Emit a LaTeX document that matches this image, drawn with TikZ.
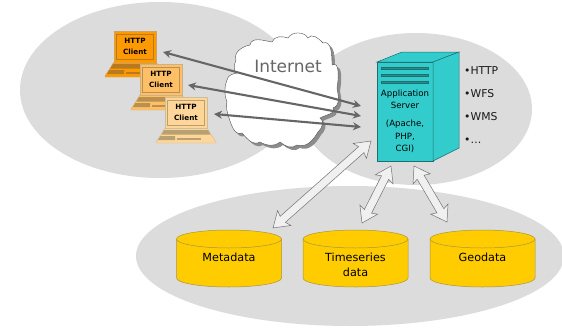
\documentclass[tikz,border=0pt]{standalone}
\usepackage{fontspec}
\setmainfont{DejaVu Sans}
\usetikzlibrary{calc,arrows.meta}
\definecolor{blob}{HTML}{DCDCDC}
\definecolor{srv}{HTML}{33CCCC}
\definecolor{srvline}{HTML}{1F6F70}
\definecolor{gold}{HTML}{FFCC00}
\definecolor{goldline}{HTML}{A89540}
\definecolor{arrowgray}{HTML}{666666}
\definecolor{lapA}{HTML}{FF9900}
\definecolor{lapAd}{HTML}{B87A20}
\definecolor{lapB}{HTML}{FFBF66}
\definecolor{lapBd}{HTML}{B89050}
\definecolor{lapC}{HTML}{FFD699}
\definecolor{lapCd}{HTML}{B8A070}
\tikzset{
  blobstyle/.style={fill=blob,draw=none},
  txt/.style={inner sep=0pt,align=center,text=black},
  httptxt/.style={txt,font=\bfseries\fontsize{7.2}{10.5}\selectfont},
  dbtxt/.style={txt,font=\fontsize{11.2}{15}\selectfont},
  srvtxt/.style={txt,font=\fontsize{8.6}{12.5}\selectfont},
  listtxt/.style={txt,anchor=west,font=\fontsize{10.8}{12}\selectfont,text=black!90},
  netarrow/.style={draw=arrowgray,line width=2.1pt,{Stealth[length=8pt,width=8pt]}-{Stealth[length=8pt,width=8pt]}},
  cloudbody/.style={fill=white,draw=black!70,line width=0.4pt},
}
\newcommand{\laptop}[5]{% x y fill dark name
  \begin{scope}[shift={(#1,#2)}]
    \fill[#3,draw=#4!70,line width=0.4pt] (0,31) -- (-9,45) -- (-9,46) -- (51,46) -- (51,45) -- (42,31) -- cycle;
    \fill[#4] (-1,33) -- (43,33) -- (45.5,37.5) -- (-3.5,37.5) -- cycle;
    \fill[#4] (-4.5,39) -- (10,39) -- (10,43) -- (-7,43) -- cycle;
    \fill[#4] (12,41) -- (36,41) -- (36,43) -- (12,43) -- cycle;
    \fill[#3,draw=#4!70,line width=0.6pt] (0,0) rectangle (42,31);
    \draw[#4,line width=0.5pt] (2.5,3) rectangle (39.5,28);
    \node[httptxt] (#5) at (21,15.5) {HTTP\\Client};
  \end{scope}}
\newcommand{\dblarrow}[2]{%
  \pgfpointdiff{\pgfpointanchor{#1}{center}}{\pgfpointanchor{#2}{center}}%
  \pgfgetlastxy{\dx}{\dy}%
  \pgfmathsetmacro\alen{veclen(\dx,\dy)}%
  \pgfmathsetmacro\aang{atan2(\dy,\dx)}%
  \begin{scope}[shift={(#1)},rotate=\aang]
    \path[fill=black!6,draw=black!55,line width=0.5pt]
    (0,0) -- (15,-10) -- (13,-4) -- (\alen-13,-4) -- (\alen-15,-10) -- (\alen,0)
    -- (\alen-15,10) -- (\alen-13,4) -- (13,4) -- (15,10) -- cycle;
  \end{scope}}
\newcommand{\cylinder}[4]{% name cx label
  \fill[gold,draw=goldline,line width=0.5pt] (#2-52.5,239) -- (#2-52.5,278) arc[start angle=180,end angle=0,x radius=52.5,y radius=9] -- (#2+52.5,239) arc[start angle=0,end angle=-180,x radius=52.5,y radius=9] -- cycle;
  \draw[goldline,line width=0.5pt] (#2-52.5,239) arc[start angle=180,end angle=0,x radius=52.5,y radius=9];
  \node[dbtxt,anchor=north] (#1) at (#2,#3) {#4};}
\begin{document}
\begin{tikzpicture}[x=1pt,y=-1pt]
\useasboundingbox (0,0) rectangle (562,327);
\fill[white] (0,0) rectangle (562,327);
\fill[blobstyle] (160,90) ellipse[x radius=140,y radius=88];
\fill[blobstyle] (350,256) ellipse[x radius=214,y radius=70];
\fill[blobstyle] (416,109) ellipse[x radius=116,y radius=76];
% cloud
\def\cloudpath{(236,60) to[out=110,in=190] (250,45) to[out=80,in=170] (272,42) to[out=70,in=160] (288,38)
  to[out=60,in=120] (308,38) to[out=60,in=130] (323,43) to[out=20,in=90] (332,65) to[out=30,in=80] (337,88)
  to[out=-80,in=20] (333,108) to[out=-60,in=30] (320,118) to[out=-30,in=40] (318,132) to[out=-120,in=-20] (297,145)
  to[out=-140,in=-40] (280,142) to[out=-140,in=-30] (260,142) to[out=-150,in=-50] (242,133) to[out=-160,in=-70] (228,115)
  to[out=100,in=-110] (227,102) to[out=110,in=-110] (227,80) to[out=80,in=190] (237,73) to[out=150,in=-110] cycle}
\fill[black!45,shift={(3,3)}] \cloudpath;
\draw[cloudbody] \cloudpath;
\node[txt,text=black!60,font=\fontsize{17}{19}\selectfont] (inet) at (288,66) {Internet};
% laptops
\laptop{114}{31}{lapA}{lapAd}{c1}
\laptop{140}{64}{lapB}{lapBd}{c2}
\laptop{165}{97}{lapC}{lapCd}{c3}
% server
\fill[srv,draw=srvline,line width=0.5pt] (377,62) rectangle (433,161);
\fill[srv,draw=srvline,line width=0.5pt] (377,62) -- (402,52) -- (459,52) -- (433,62) -- cycle;
\fill[srv,draw=srvline,line width=0.5pt] (433,62) -- (459,52) -- (459,148) -- (433,161) -- cycle;
\foreach \yy in {67,74,81}{\fill[srv!70!black,draw=srvline,line width=0.4pt] (381,\yy) rectangle (428,\yy+2.2);}
\node[srvtxt] (srvname) at (405,99.5) {Application\\Server};
\node[srvtxt] (srvstack) at (405,136.5) {(Apache,\\PHP,\\CGI)};
\node[listtxt] (l1) at (464,71) {•HTTP};
\node[listtxt] (l2) at (464,94) {•WFS};
\node[listtxt] (l3) at (464,117) {•WMS};
\node[listtxt] (l4) at (464,141) {•…};
% net arrows
\coordinate (a1) at (163,52); \coordinate (b1) at (361,106);
\coordinate (a2) at (188,85); \coordinate (b2) at (361,116);
\coordinate (a3) at (214,114); \coordinate (b3) at (361,127);
\draw[netarrow] (a1) -- (b1);
\draw[netarrow] (a2) -- (b2);
\draw[netarrow] (a3) -- (b3);
% cylinders
\cylinder{db1}{229}{253}{Metadata}
\cylinder{db2}{355.5}{253}{Timeseries\\data}
\cylinder{db3}{482.5}{253}{Geodata}
% data arrows
\coordinate (s1) at (371,141); \coordinate (t1) at (273,228);
\coordinate (s2) at (391,166); \coordinate (t2) at (362,223);
\coordinate (s3) at (414,166); \coordinate (t3) at (447,222);
\dblarrow{s1}{t1}
\dblarrow{s2}{t2}
\dblarrow{s3}{t3}
\end{tikzpicture}
\end{document}
